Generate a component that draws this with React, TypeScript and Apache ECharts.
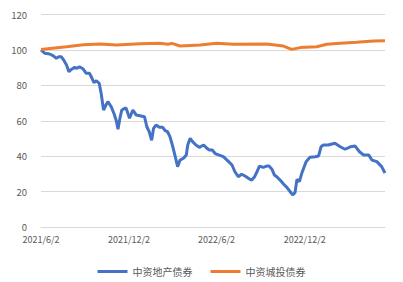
import React, { useEffect, useRef } from "react";
import * as echarts from "echarts";

const seriesNames = ["中资地产债券", "中资城投债券"];

const propertyDates = [
  "2021/6/2", "2021/6/10", "2021/6/20", "2021/6/27", "2021/7/4", "2021/7/9", "2021/7/14", "2021/7/20",
  "2021/7/25", "2021/7/30", "2021/8/4", "2021/8/11", "2021/8/16", "2021/8/21", "2021/8/28", "2021/9/4",
  "2021/9/11", "2021/9/16", "2021/9/20", "2021/9/25", "2021/10/1", "2021/10/5", "2021/10/10", "2021/10/15",
  "2021/10/19", "2021/10/26", "2021/11/1", "2021/11/6", "2021/11/9", "2021/11/13", "2021/11/17", "2021/11/23",
  "2021/11/26", "2021/12/3", "2021/12/10", "2021/12/17", "2021/12/27", "2022/1/3", "2022/1/8", "2022/1/13",
  "2022/1/18", "2022/1/22", "2022/1/27", "2022/2/3", "2022/2/10", "2022/2/15", "2022/2/20", "2022/2/25",
  "2022/3/3", "2022/3/8", "2022/3/13", "2022/3/18", "2022/3/25", "2022/3/31", "2022/4/3", "2022/4/8",
  "2022/4/13", "2022/4/20", "2022/4/27", "2022/5/6", "2022/5/13", "2022/5/18", "2022/5/24", "2022/5/30",
  "2022/6/6", "2022/6/16", "2022/6/27", "2022/7/4", "2022/7/10", "2022/7/17", "2022/7/24", "2022/7/31",
  "2022/8/7", "2022/8/14", "2022/8/20", "2022/8/25", "2022/8/30", "2022/9/7", "2022/9/14", "2022/9/19",
  "2022/9/25", "2022/9/30", "2022/10/5", "2022/10/12", "2022/10/19", "2022/10/26", "2022/11/2", "2022/11/7",
  "2022/11/12", "2022/11/16", "2022/11/21", "2022/11/26", "2022/12/5", "2022/12/13", "2022/12/24", "2022/12/31",
  "2023/1/5", "2023/1/10", "2023/1/20", "2023/1/28", "2023/2/3", "2023/2/14", "2023/2/24", "2023/3/7",
  "2023/3/17", "2023/3/26", "2023/4/3", "2023/4/14", "2023/4/21", "2023/5/1", "2023/5/11", "2023/5/18",
];

const propertyValues = [
  100, 98.1, 97.7, 96.8, 95.2, 96.2, 96.2, 93.9,
  91.5, 87.7, 89.0, 90.2, 89.6, 90.5, 89.4, 86.8,
  86.8, 84.0, 81.5, 82.6, 81.1, 75.5, 66.0, 68.9,
  70.8, 67.9, 63.8, 59.5, 55.2, 61.4, 66.1, 67.0,
  67.0, 61.4, 66.1, 63.2, 62.7, 62.3, 56.6, 53.8,
  49.0, 55.7, 57.6, 56.3, 56.3, 54.4, 53.8, 51.0,
  45.3, 39.7, 34.1, 37.8, 38.8, 40.7, 46.3, 50.1,
  48.2, 46.3, 45.0, 46.3, 44.4, 43.5, 43.5, 41.5,
  40.7, 39.7, 36.9, 35.0, 31.2, 28.4, 29.8, 28.8,
  27.5, 26.5, 28.4, 31.2, 34.4, 33.7, 34.4, 34.4,
  32.6, 29.4, 28.4, 26.5, 24.3, 22.4, 19.9, 18.1,
  19.4, 26.9, 25.6, 30.3, 36.9, 39.4, 39.7, 40.1,
  45.3, 46.3, 46.3, 46.9, 47.3, 45.3, 43.9, 45.3,
  45.7, 42.5, 40.7, 40.7, 37.8, 36.9, 34.1, 30.5,
];

const lgfvDates = [
  "2021/6/2", "2021/7/25", "2021/8/29", "2021/10/3", "2021/11/6", "2021/12/25", "2022/2/4", "2022/2/21",
  "2022/3/1", "2022/3/18", "2022/4/29", "2022/6/2", "2022/7/7", "2022/9/14", "2022/10/19", "2022/11/5",
  "2022/11/23", "2022/12/27", "2023/1/17", "2023/2/14", "2023/3/20", "2023/4/24", "2023/5/18",
];

const lgfvValues = [
  100.3, 101.8, 102.9, 103.3, 102.8, 103.5, 103.7, 103.2,
  103.7, 102.2, 102.8, 103.7, 103.2, 103.4, 102.2, 100.3,
  101.3, 101.8, 103.2, 103.7, 104.3, 105.0, 105.2,
];

const xTickLabels = ["2021/6/2", "2021/12/2", "2022/6/2", "2022/12/2"];
const xRange = ["2021/6/2", "2023/5/18"];

const toTime = (s: string) => {
  const [y, m, d] = s.split("/").map(Number);
  return new Date(y, m - 1, d).getTime();
};
const fmt = (t: number) => {
  const d = new Date(t);
  return `${d.getFullYear()}/${d.getMonth() + 1}/${d.getDate()}`;
};

const FONT = "'Noto Sans CJK SC', 'Noto Sans', sans-serif";
const TEXT = "#595959";

export default function App() {
  const ref = useRef<HTMLDivElement>(null);
  useEffect(() => {
    if (!ref.current) return;
    const chart = echarts.init(ref.current, undefined, { renderer: "svg" });
    chart.setOption({
      animation: false,
      textStyle: { fontFamily: FONT },
      grid: { left: 41, right: 18, top: 14.5, bottom: 55 },
      legend: {
        top: 261.5,
        left: "center",
        icon: "rect",
        itemWidth: 30,
        itemHeight: 3,
        itemGap: 18,
        textStyle: { fontSize: 10, color: TEXT, fontFamily: FONT },
        data: seriesNames,
      },
      xAxis: {
        type: "value",
        min: toTime(xRange[0]),
        max: toTime(xRange[1]),
        axisLine: { show: true, lineStyle: { color: "#D9D9D9", width: 1 } },
        axisTick: { show: false },
        splitLine: { show: false },
        axisLabel: {
          customValues: xTickLabels.map(toTime),
          formatter: (v: number) => fmt(v),
          fontSize: 9,
          color: TEXT,
          margin: 8,
          fontFamily: FONT,
        },
      },
      yAxis: {
        type: "value",
        min: 0,
        max: 120,
        interval: 20,
        axisLine: { show: false },
        axisTick: { show: false },
        splitLine: { lineStyle: { color: "#D9D9D9", width: 1 } },
        axisLabel: { fontSize: 9.5, color: TEXT, margin: 14, fontFamily: FONT },
      },
      series: [
        {
          name: seriesNames[0],
          type: "line",
          symbol: "none",
          lineStyle: { color: "#4472C4", width: 3 },
          itemStyle: { color: "#4472C4" },
          data: propertyDates.map((d, i) => [toTime(d), propertyValues[i]]),
        },
        {
          name: seriesNames[1],
          type: "line",
          symbol: "none",
          lineStyle: { color: "#ED7D31", width: 3 },
          itemStyle: { color: "#ED7D31" },
          data: lgfvDates.map((d, i) => [toTime(d), lgfvValues[i]]),
        },
      ],
    });
    return () => chart.dispose();
  }, []);
  return (
    <div
      ref={ref}
      style={{ position: "fixed", left: 0, top: 0, width: 403, height: 282, background: "#fff" }}
    />
  );
}
